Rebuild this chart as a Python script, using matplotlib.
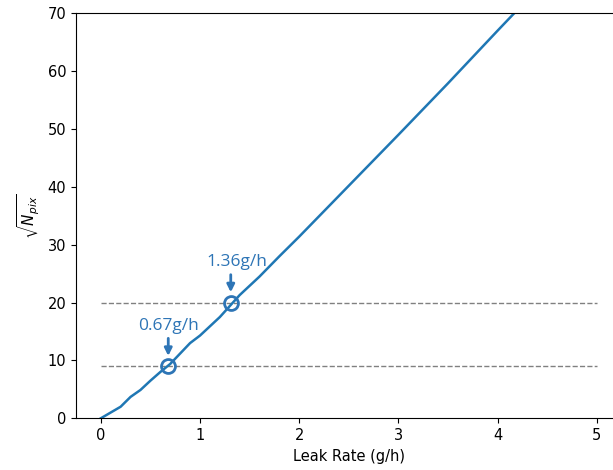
import matplotlib
matplotlib.use("Agg")
import matplotlib.pyplot as plt

leak_rate = [0, 0.2, 0.3, 0.4, 0.5, 0.6, 0.7, 0.8, 0.9, 1.0, 1.2, 1.4, 1.6, 1.8, 2.0, 2.5, 3.0, 3.5, 4.0, 4.5]
sqrt_npix = [0, 2.0, 3.7, 4.9, 6.5, 8.0, 9.4, 11.2, 13.0, 14.3, 17.5, 21.3, 24.5, 28.0, 31.4, 40.2, 49.0, 57.9, 67.0, 76.0]

thresholds = [9, 20]
marked_x = [0.68, 1.31]
marked_y = [9, 20]
labels = ["0.67g/h", "1.36g/h"]

ann_blue = "#2E75B6"

fig = plt.figure(figsize=(6.13, 4.70), dpi=100)
ax = fig.add_axes([76/613, 51.7/470, 545.6/613, 405/470])

for t in thresholds:
    ax.hlines(t, 0, 5, colors="gray", linestyles="--", linewidth=1)

ax.plot(leak_rate, sqrt_npix, color="#1f77b4", linewidth=1.8)
ax.plot(marked_x, marked_y, linestyle="none", marker="o", markersize=10,
        markerfacecolor="none", markeredgecolor=ann_blue, markeredgewidth=2)

for x, y, lab in zip(marked_x, marked_y, labels):
    ax.annotate("", xy=(x, y + 1.3), xytext=(x, y + 5.3),
                arrowprops=dict(arrowstyle="-|>", color=ann_blue, lw=2, mutation_scale=11))
    ax.text(x + (0.0 if y < 15 else 0.06), y + 7.0, lab, color=ann_blue, fontsize=12.5,
            ha="center", va="center", family="Open Sans")

ax.set_xlim(-0.25, 5.25)
ax.set_ylim(0, 70)
ax.set_xticks([0, 1, 2, 3, 4, 5])
ax.set_yticks([0, 10, 20, 30, 40, 50, 60, 70])
ax.tick_params(labelsize=10.5)
ax.set_xlabel("Leak Rate (g/h)", fontsize=10.5)
ax.set_ylabel(r"$\sqrt{N_{pix}}$", fontsize=11)

fig.savefig("out.png", dpi=100)
